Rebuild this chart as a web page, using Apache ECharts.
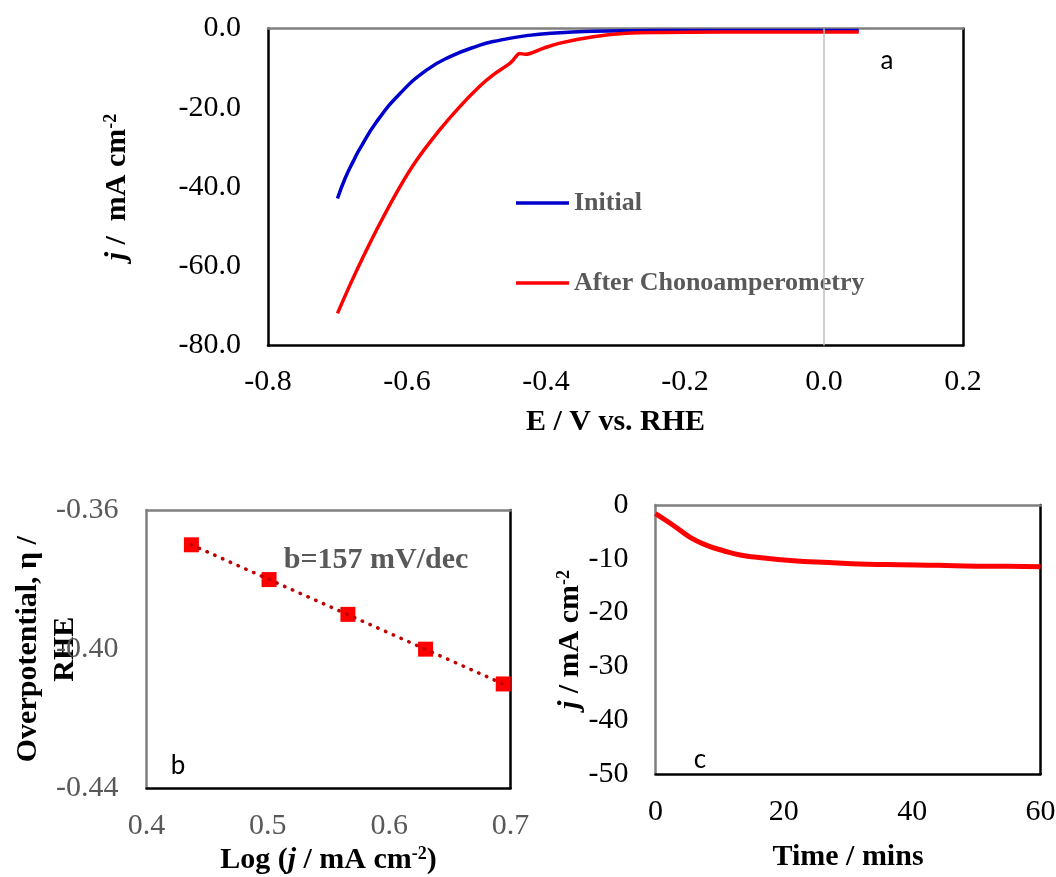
<!DOCTYPE html>
<html>
<head>
<meta charset="utf-8">
<script src="https://cdn.jsdelivr.net/npm/echarts@6/dist/echarts.min.js"></script>
<style>
  html, body { margin: 0; padding: 0; background: #fff; }
  #chart { width: 1056px; height: 877px; }
</style>
</head>
<body>
<div id="chart"></div>
<script>
// (a) polarisation curves, E / V vs RHE -> j / mA cm-2
const E_INITIAL = [-0.700, -0.689, -0.677, -0.668, -0.644, -0.610, -0.572, -0.538, -0.495, -0.476,
  -0.428, -0.380, -0.332, -0.280, -0.200, -0.100, 0.000, 0.050];
const J_INITIAL = [-42.9, -37.8, -33.4, -30.4, -23.6, -16.4, -10.5, -7.1, -4.2, -3.3,
  -1.8, -1.05, -0.7, -0.55, -0.5, -0.5, -0.5, -0.5];
const E_AFTER = [-0.700, -0.682, -0.663, -0.639, -0.610, -0.586, -0.553, -0.524, -0.495, -0.476,
  -0.452, -0.447, -0.442, -0.438, -0.430, -0.423, -0.404, -0.380, -0.332, -0.284, -0.236, -0.150, -0.050, 0.050];
const J_AFTER = [-71.9, -64.7, -57.6, -49.2, -39.9, -33.2, -25.6, -19.7, -14.5, -11.7,
  -8.8, -7.9, -6.8, -6.3, -6.5, -6.3, -5.0, -3.7, -2.1, -1.2, -1.0, -0.9, -0.9, -0.9];

// (b) Tafel plot
const LOG_J = [0.437, 0.501, 0.566, 0.630, 0.694];
const ETA = [-0.370, -0.380, -0.390, -0.400, -0.410];
const TREND_X = [0.437, 0.694];
const TREND_Y = [-0.370, -0.410];

// (c) chronoamperometry
const T_MIN = [0, 2.8, 5.4, 8.0, 10.6, 13.2, 15.8, 21, 27, 33, 38, 44, 50, 55, 60];
const J_CA = [-1.6, -3.8, -6.0, -7.5, -8.5, -9.3, -9.7, -10.3, -10.7, -11.0, -11.1, -11.2, -11.4, -11.4, -11.5];

const SERIF = 'Liberation Serif';
const GREY_TXT = '#595959';
const zip = (a, b) => a.map((v, i) => [v, b[i]]);

const chart = echarts.init(document.getElementById('chart'));

const tickLabel = (color, fmt) => ({
  fontFamily: SERIF, fontSize: 30, color: color, formatter: fmt
});
const nameStyle = {
  fontFamily: SERIF, fontSize: 30, fontWeight: 'bold', color: '#000',
  rich: {
    it: { fontFamily: SERIF, fontSize: 30, fontWeight: 'bold', fontStyle: 'italic', color: '#000' },
    b: { fontFamily: SERIF, fontSize: 30, fontWeight: 'bold', color: '#000' },
    sup: { fontFamily: SERIF, fontSize: 18, fontWeight: 'bold', color: '#000', verticalAlign: 'top' }
  }
};

// main axis with labels, name and one frame edge
function mainAxis(grid, min, max, interval, lineColor, labelColor, fmt, margin, extra) {
  return Object.assign({
    type: 'value', gridIndex: grid, min: min, max: max, interval: interval,
    axisLine: { onZero: false, lineStyle: { color: lineColor, width: 2.5 } },
    axisTick: { show: false }, splitLine: { show: false },
    axisLabel: Object.assign(tickLabel(labelColor, fmt), { margin: margin }),
    nameTextStyle: nameStyle, nameLocation: 'middle', nameMoveOverlap: false
  }, extra);
}
// opposite frame edge only
function edgeAxis(grid, min, max, pos, color) {
  return {
    type: 'value', gridIndex: grid, min: min, max: max, position: pos,
    axisLine: { onZero: false, lineStyle: { color: color, width: 2.5 } },
    axisTick: { show: false }, splitLine: { show: false }, axisLabel: { show: false }
  };
}

const f1 = v => v.toFixed(1);
const f2 = v => v.toFixed(2);
const f0 = v => String(Math.round(v));

const legendText = { fontFamily: SERIF, fontSize: 26, fontWeight: 'bold', color: GREY_TXT };

chart.setOption({
  animation: false,
  backgroundColor: '#fff',
  grid: [
    { left: 268, top: 28.5, right: 93, bottom: 531.5, outerBoundsMode: 'none' },
    { left: 146.5, top: 510, right: 545.5, bottom: 88.7, outerBoundsMode: 'none' },
    { left: 655.5, top: 505, right: 15.5, bottom: 103, outerBoundsMode: 'none' }
  ],
  xAxis: [
    mainAxis(0, -0.8, 0.2, 0.2, '#000', '#000', f1, 22,
      { name: '{b|E / V vs. RHE}', nameGap: 62 }),
    edgeAxis(0, -0.8, 0.2, 'top', '#7f7f7f'),
    mainAxis(1, 0.4, 0.7, 0.1, '#000', GREY_TXT, f1, 23,
      { name: '{b|Log (}{it|j}{b| / mA cm}{sup|-2}{b|)}', nameGap: 57 }),
    edgeAxis(1, 0.4, 0.7, 'top', '#7f7f7f'),
    mainAxis(2, 0, 60, 20, '#000', '#000', f0, 23,
      { name: '{b|Time / mins}', nameGap: 68 }),
    edgeAxis(2, 0, 60, 'top', '#7f7f7f')
  ],
  yAxis: [
    mainAxis(0, -80, 0, 20, '#000', '#000', f1, 27,
      { name: '{it|j}{b| /  mA cm}{sup|-2}', nameGap: 136, nameRotate: 90 }),
    edgeAxis(0, -80, 0, 'right', '#000'),
    mainAxis(1, -0.44, -0.36, 0.04, '#7f7f7f', GREY_TXT, f2, 28,
      { name: 'Overpotential, η /\nRHE', nameGap: 63, nameRotate: 90,
        nameTextStyle: { fontFamily: SERIF, fontSize: 30, fontWeight: 'bold', color: '#000', lineHeight: 37 } }),
    edgeAxis(1, -0.44, -0.36, 'right', '#000'),
    mainAxis(2, -50, 0, 10, '#7f7f7f', '#000', f0, 27,
      { name: '{it|j}{b| / mA cm}{sup|-2}', nameGap: 70, nameRotate: 90 }),
    edgeAxis(2, -50, 0, 'right', '#000')
  ],
  legend: [
    {
      data: ['Initial'], left: 516, top: 190, padding: 0, icon: 'rect',
      itemWidth: 53, itemHeight: 3.5, itemGap: 0, textStyle: legendText
    },
    {
      data: ['After Chonoamperometry'], left: 516, top: 270, padding: 0, icon: 'rect',
      itemWidth: 53, itemHeight: 3.5, itemGap: 0, textStyle: legendText
    }
  ],
  series: [
    {
      name: 'Initial', type: 'line', xAxisIndex: 0, yAxisIndex: 0,
      data: zip(E_INITIAL, J_INITIAL), smooth: 0.5, symbol: 'none',
      lineStyle: { color: '#0000cc', width: 3.5 }, itemStyle: { color: '#0000cc' },
      markLine: {
        silent: true, symbol: 'none', label: { show: false },
        lineStyle: { color: '#bfbfbf', width: 1.5, type: 'solid' },
        data: [{ xAxis: 0 }]
      },
      z: 3
    },
    {
      name: 'After Chonoamperometry', type: 'line', xAxisIndex: 0, yAxisIndex: 0,
      data: zip(E_AFTER, J_AFTER), smooth: 0.4, symbol: 'none',
      lineStyle: { color: '#ff0000', width: 3.5 }, itemStyle: { color: '#ff0000' }, z: 4
    },
    {
      name: 'Tafel', type: 'scatter', xAxisIndex: 2, yAxisIndex: 2,
      data: zip(LOG_J, ETA), symbol: 'rect', symbolSize: 15,
      itemStyle: { color: '#ff0000', opacity: 1 }
    },
    {
      name: 'Tafel fit', type: 'line', xAxisIndex: 2, yAxisIndex: 2,
      data: zip(TREND_X, TREND_Y), symbol: 'none',
      lineStyle: { color: '#c00000', width: 3.5, type: [0.5, 8], cap: 'round' }, z: 5
    },
    {
      name: 'Chronoamperometry', type: 'line', xAxisIndex: 4, yAxisIndex: 4,
      data: zip(T_MIN, J_CA), smooth: 0.5, symbol: 'none',
      lineStyle: { color: '#ff0000', width: 5 }
    }
  ],
  graphic: [
    { type: 'text', x: 887, y: 61, style: { text: 'a', font: '26px Lato', fill: '#000', align: 'center', verticalAlign: 'middle' } },
    { type: 'text', x: 178, y: 766, style: { text: 'b', font: '26px Lato', fill: '#000', align: 'center', verticalAlign: 'middle' } },
    { type: 'text', x: 700, y: 760, style: { text: 'c', font: '26px Lato', fill: '#000', align: 'center', verticalAlign: 'middle' } },
    { type: 'text', x: 376, y: 560, style: { text: 'b=157 mV/dec', font: 'bold 30px "Liberation Serif"', fill: GREY_TXT, align: 'center', verticalAlign: 'middle' } }
  ]
});

window.addEventListener('resize', () => chart.resize());
</script>
</body>
</html>
